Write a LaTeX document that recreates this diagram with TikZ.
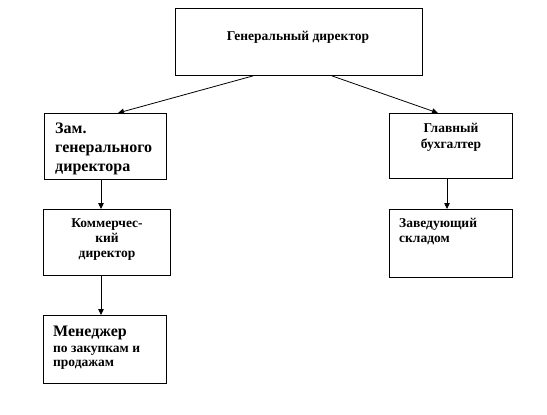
\documentclass[tikz,border=0pt]{standalone}
\usepackage{fontspec}
\setmainfont{Liberation Serif}
\usetikzlibrary{arrows.meta}
\begin{document}
\begin{tikzpicture}[x=1pt,y=-1pt,
  box/.style={draw,line width=0.9pt,rectangle,anchor=north west,inner sep=0pt},
  lbl/.style={inner sep=0pt,font=\bfseries\fontsize{13.5}{15}\selectfont},
  big/.style={inner sep=0pt,font=\bfseries\fontsize{16}{18}\selectfont},
  conn/.style={line width=0.8pt,-{Triangle[length=6pt,width=5.5pt]}}]
\useasboundingbox (0,0) rectangle (547,415);
\node[box,minimum width=247pt,minimum height=67pt] (gen) at (175,8) {};
\node[box,minimum width=122pt,minimum height=66pt] (zam) at (44,113) {};
\node[box,minimum width=123pt,minimum height=65pt] (glav) at (389,113) {};
\node[box,minimum width=127pt,minimum height=66pt] (kom) at (43,209) {};
\node[box,minimum width=123pt,minimum height=68pt] (zav) at (389,209) {};
\node[box,minimum width=123pt,minimum height=68pt] (men) at (43,315) {};
% texts
\node[lbl,anchor=base] (t1) at (298,40) {Генеральный директор};
\node[big,anchor=base west] (t2a) at (55,133) {Зам.};
\node[big,anchor=base west] (t2b) at (55,152) {генерального};
\node[big,anchor=base west] (t2c) at (55,171) {директора};
\node[lbl,anchor=base] (t3a) at (451,132) {Главный};
\node[lbl,anchor=base] (t3b) at (451,148) {бухгалтер};
\node[lbl,anchor=base] (t4a) at (107,227) {Коммерчес-};
\node[lbl,anchor=base] (t4b) at (107,242) {кий};
\node[lbl,anchor=base] (t4c) at (107,257) {директор};
\node[lbl,anchor=base west] (t5a) at (399,227) {Заведующий};
\node[lbl,anchor=base west] (t5b) at (399,242) {складом};
\node[big,anchor=base west] (t6a) at (53,336) {Менеджер};
\node[lbl,anchor=base west] (t6b) at (53,352) {по закупкам и};
\node[lbl,anchor=base west] (t6c) at (53,366) {продажам};
% connectors
\draw[conn] ([xshift=78pt]gen.south west) -- ([xshift=74pt]zam.north west);
\draw[conn] ([xshift=157pt]gen.south west) -- ([xshift=49pt]glav.north west);
\draw[conn] ([xshift=57pt]zam.south west) -- ([xshift=58pt]kom.north west);
\draw[conn] ([xshift=58pt]kom.south west) -- ([xshift=58pt]men.north west);
\draw[conn] ([xshift=58pt]glav.south west) -- ([xshift=58pt]zav.north west);
\end{tikzpicture}
\end{document}
